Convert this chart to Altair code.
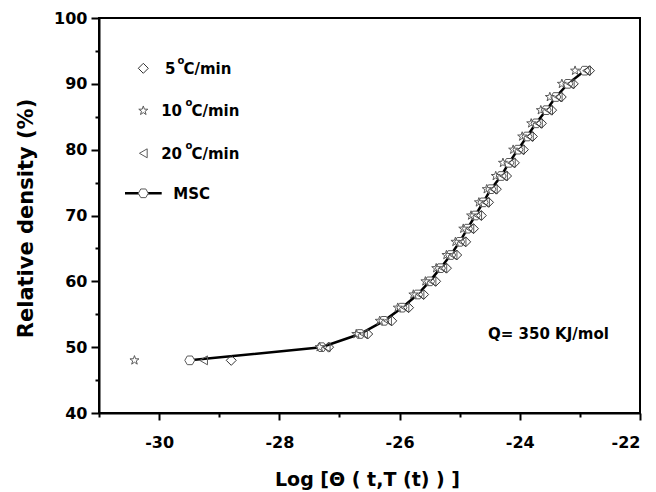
import altair as alt
import pandas as pd

# ---- data ----
density = [48, 50, 52, 54, 56, 58, 60, 62, 64, 66, 68, 70, 72, 74, 76, 78, 80, 82, 84, 86, 88, 90, 92]
msc_x = [-29.49, -27.30, -26.66, -26.26, -25.96, -25.70, -25.50, -25.32, -25.15, -25.00, -24.87,
         -24.74, -24.61, -24.48, -24.31, -24.18, -24.03, -23.88, -23.73, -23.56, -23.40, -23.20, -22.92]
rate5_x = [-28.80, -27.18, -26.53, -26.13, -25.85, -25.60, -25.40, -25.22, -25.05, -24.90, -24.77,
           -24.64, -24.52, -24.39, -24.22, -24.09, -23.94, -23.79, -23.64, -23.47, -23.31, -23.11, -22.84]
rate10_x = [-30.41, -27.33, -26.72, -26.33, -26.03, -25.77, -25.57, -25.39, -25.22, -25.07, -24.94,
            -24.81, -24.68, -24.55, -24.40, -24.28, -24.11, -23.96, -23.81, -23.65, -23.50, -23.30, -23.08]
rate20_x = [-29.26, -27.22, -26.60, -26.20, -25.91, -25.66, -25.46, -25.28, -25.11, -24.96, -24.83,
            -24.70, -24.57, -24.44, -24.27, -24.14, -23.99, -23.84, -23.69, -23.52, -23.36, -23.16, -22.89]

x_ticks = [-31, -30, -29, -28, -27, -26, -25, -24, -23, -22]
y_ticks = [40, 45, 50, 55, 60, 65, 70, 75, 80, 85, 90, 95, 100]
legend_rates = ["5", "10", "20"]
legend_unit = "C/min"
legend_deg = "o"
legend_msc = "MSC"
note_text = "Q= 350 KJ/mol"
x_title = "Log [\u0398 ( t,T (t) ) ]"
y_title = "Relative density (%)"

FONT = "DejaVu Sans"
HEX = "M-1,0L-0.5,-0.866L0.5,-0.866L1,0L0.5,0.866L-0.5,0.866Z"
STAR = ("M0,-1L0.235,-0.324L0.951,-0.309L0.380,0.124L0.588,0.809L0,0.4"
        "L-0.588,0.809L-0.380,0.124L-0.951,-0.309L-0.235,-0.324Z")
SYM = "#5a5a5a"

df_msc = pd.DataFrame({"x": msc_x, "y": density})
df5 = pd.DataFrame({"x": rate5_x, "y": density})
df10 = pd.DataFrame({"x": rate10_x, "y": density})
df20 = pd.DataFrame({"x": rate20_x, "y": density})
one = pd.DataFrame({"k": [0]})

xscale = alt.Scale(domain=[-31, -22], nice=False, zero=False)
yscale = alt.Scale(domain=[40, 100], nice=False, zero=False)

common_axis = dict(
    domainColor="black", domainWidth=2, tickColor="black", tickWidth=2,
    labelFont=FONT, labelFontWeight="bold", labelFontSize=16, labelColor="black",
    titleFont=FONT, titleFontWeight="bold", titleColor="black", grid=False,
)

xaxis = alt.Axis(
    values=x_ticks,
    labelExpr="datum.value % 2 === 0 ? toString(datum.value) : ''",
    tickSize={"condition": {"test": "datum.value % 2 === 0", "value": 7}, "value": 4},
    labelPadding=14, labelBaseline="top",
    titleFontSize=19, titleX=268, titleY=72, titleAlign="center", titleBaseline="alphabetic",
    **common_axis,
)
yaxis = alt.Axis(
    values=y_ticks,
    labelExpr="datum.value % 10 === 0 ? toString(datum.value) : ''",
    tickSize={"condition": {"test": "datum.value % 10 === 0", "value": 8}, "value": 4},
    labelPadding=4,
    titleFontSize=21, titleX=-67, titleY=200, titleAngle=270, titleAlign="center",
    titleBaseline="alphabetic",
    **common_axis,
)

X = alt.X("x:Q", scale=xscale, axis=xaxis, title=x_title)
Y = alt.Y("y:Q", scale=yscale, axis=yaxis, title=y_title)

line = alt.Chart(df_msc).mark_line(color="black", strokeWidth=2.5).encode(x=X, y=Y)
hexes = alt.Chart(df_msc).mark_point(shape=HEX, size=100, filled=True, fill="white",
                                     stroke=SYM, strokeWidth=1, opacity=1).encode(x=X, y=Y)
stars = alt.Chart(df10).mark_point(shape=STAR, size=90, filled=False, color=SYM,
                                   strokeWidth=1, opacity=1).encode(x=X, y=Y)
tris = alt.Chart(df20).mark_point(shape="triangle-left", size=80, filled=False, color=SYM,
                                  strokeWidth=1, opacity=1).encode(x=X, y=Y)
dias = alt.Chart(df5).mark_point(shape="diamond", size=100, filled=False, color="#333333",
                                 strokeWidth=1, opacity=1).encode(x=X, y=Y)

# ---- hand-made legend (inside plot, top-left) ----
def txt(s, x, y, size=15, align="left"):
    return alt.Chart(one).mark_text(text=s, font=FONT, fontWeight="bold", fontSize=size,
                                    color="black", align=align, baseline="alphabetic").encode(
        x=alt.value(x), y=alt.value(y))

def sym(shape, x, y, size, color=SYM, filled=False, fill=None):
    kw = dict(shape=shape, size=size, strokeWidth=1, opacity=1)
    if filled:
        kw.update(filled=True, fill=fill, stroke=color)
    else:
        kw.update(filled=False, color=color)
    return alt.Chart(one).mark_point(**kw).encode(x=alt.value(x), y=alt.value(y))

rows = [50.3, 92.7, 135.3]
legend_layers = [
    sym("diamond", 44.3, rows[0], 100, color="#333333"),
    sym(STAR, 44.3, rows[1], 90),
    sym("triangle-left", 44.3, rows[2], 80),
    txt(legend_rates[0], 76.5, rows[0] + 5.5, align="right"),
    txt(legend_rates[1], 83, rows[1] + 5.5, align="right"),
    txt(legend_rates[2], 83, rows[2] + 5.5, align="right"),
    txt(legend_deg, 78.5, rows[0] - 4.5, size=10),
    txt(legend_deg, 86.5, rows[1] - 4.5, size=10),
    txt(legend_deg, 86.5, rows[2] - 4.5, size=10),
    txt(legend_unit, 84.5, rows[0] + 5.5),
    txt(legend_unit, 92.5, rows[1] + 5.5),
    txt(legend_unit, 92.5, rows[2] + 5.5),
    alt.Chart(one).mark_rule(color="black", strokeWidth=2.5).encode(
        x=alt.value(26), x2=alt.value(62.7), y=alt.value(175.3)),
    sym(HEX, 44.3, 175.3, 100, filled=True, fill="white"),
    txt(legend_msc, 74.3, 175.3 + 5.5),
    txt(note_text, 389, 320.5),
]

chart = alt.layer(line, hexes, stars, tris, dias, *legend_layers).properties(
    width=541, height=395,
    padding={"left": 91, "top": 10, "right": 8, "bottom": 79},
    autosize=alt.AutoSizeParams(type="none"),
    background="white",
).configure_view(stroke="black", strokeWidth=2)

chart.save("out.html", embed_options={"renderer": "svg", "actions": False})
